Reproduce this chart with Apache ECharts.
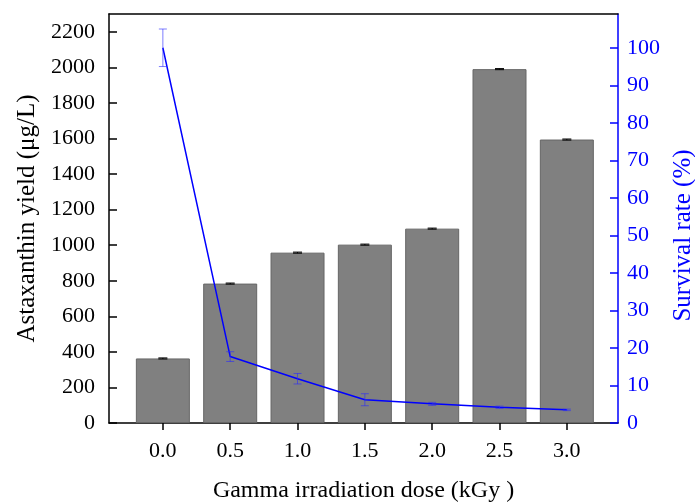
<!DOCTYPE html>
<html>
<head>
<meta charset="utf-8">
<script src="https://cdn.jsdelivr.net/npm/echarts@6/dist/echarts.min.js"></script>
<style>
  html, body { margin: 0; padding: 0; background: #fff; }
  #chart { width: 695px; height: 502px; }
</style>
</head>
<body>
<div id="chart"></div>
<script>
// dose (kGy)
const doses = [0.0, 0.5, 1.0, 1.5, 2.0, 2.5, 3.0];
// astaxanthin yield (ug/L) and its error
const yieldVals = [363, 784, 958, 1003, 1093, 1990, 1594];
const yieldErr = [3, 3, 3, 3, 3, 3, 3];
// survival rate (%) and its error
const survival = [100, 17.7, 11.8, 6.2, 5.1, 4.2, 3.5];
const survivalErr = [5, 1.3, 1.4, 1.6, 0.4, 0.3, 0.2];

const font = 'Liberation Serif';

const chart = echarts.init(document.getElementById('chart'));

function errorBars(color, capW, lineW) {
  return function (params, api) {
    const x = api.value(0);
    const lo = api.coord([x, api.value(1)]);
    const hi = api.coord([x, api.value(2)]);
    const half = capW / 2;
    const style = { stroke: color, lineWidth: lineW };
    return {
      type: 'group',
      children: [
        { type: 'line', shape: { x1: lo[0], y1: lo[1], x2: hi[0], y2: hi[1] }, style: style },
        { type: 'line', shape: { x1: lo[0] - half, y1: lo[1], x2: lo[0] + half, y2: lo[1] }, style: style },
        { type: 'line', shape: { x1: hi[0] - half, y1: hi[1], x2: hi[0] + half, y2: hi[1] }, style: style }
      ]
    };
  };
}

const option = {
  animation: false,
  textStyle: { fontFamily: font },
  grid: {
    left: 109, right: 77, top: 14, bottom: 79,
    containLabel: false,
    outerBoundsMode: 'none'
  },
  xAxis: [
    {
      type: 'value',
      min: -0.4,
      max: 3.38,
      name: 'Gamma irradiation dose (kGy )',
      nameLocation: 'middle',
      nameGap: 56,
      nameTextStyle: { fontFamily: font, fontSize: 24, color: '#000' },
      axisLine: { onZero: false, lineStyle: { color: '#000', width: 1.5 } },
      axisTick: { customValues: doses, length: 7, lineStyle: { color: '#000', width: 1.5 } },
      axisLabel: {
        customValues: doses,
        formatter: v => v.toFixed(1),
        fontFamily: font, fontSize: 22, color: '#000', margin: 17
      },
      splitLine: { show: false }
    },
    {
      type: 'value',
      position: 'top',
      min: -0.4,
      max: 3.38,
      axisLine: { show: true, onZero: false, lineStyle: { color: '#000', width: 1.5 } },
      axisTick: { show: false },
      axisLabel: { show: false },
      splitLine: { show: false }
    }
  ],
  yAxis: [
    {
      type: 'value',
      min: 0,
      max: 2300,
      interval: 200,
      name: 'Astaxanthin yield (μg/L)',
      nameLocation: 'middle',
      nameGap: 68,
      nameTextStyle: { fontFamily: font, fontSize: 25, color: '#000' },
      axisLine: { show: true, onZero: false, lineStyle: { color: '#000', width: 1.5 } },
      axisTick: { show: true, inside: true, length: 8, lineStyle: { color: '#000', width: 1.5 } },
      axisLabel: {
        showMaxLabel: false, formatter: v => String(v),
        fontFamily: font, fontSize: 22, color: '#000', margin: 14
      },
      splitLine: { show: false }
    },
    {
      type: 'value',
      position: 'right',
      min: 0,
      max: 109,
      interval: 10,
      name: 'Survival rate (%)',
      nameLocation: 'middle',
      nameGap: 52,
      nameRotate: 90,
      nameTextStyle: { fontFamily: font, fontSize: 25, color: '#0000ff', padding: [0, 34, 0, 0] },
      axisLine: { show: true, onZero: false, lineStyle: { color: '#0000ff', width: 1.5 } },
      axisTick: { show: true, inside: true, length: 8, lineStyle: { color: '#0000ff', width: 1.5 } },
      axisLabel: {
        showMaxLabel: false, formatter: v => String(v),
        fontFamily: font, fontSize: 22, color: '#0000ff', margin: 9
      },
      splitLine: { show: false }
    }
  ],
  series: [
    {
      type: 'bar',
      xAxisIndex: 0,
      yAxisIndex: 0,
      barWidth: 54,
      data: doses.map((d, i) => [d, yieldVals[i]]),
      itemStyle: { color: '#808080', borderColor: '#666666', borderWidth: 1 }
    },
    {
      type: 'custom',
      xAxisIndex: 0,
      yAxisIndex: 0,
      renderItem: errorBars('#000', 9, 1),
      data: doses.map((d, i) => [d, yieldVals[i] - yieldErr[i], yieldVals[i] + yieldErr[i]]),
      z: 3
    },
    {
      type: 'line',
      xAxisIndex: 0,
      yAxisIndex: 1,
      data: doses.map((d, i) => [d, survival[i]]),
      showSymbol: false,
      symbol: 'none',
      lineStyle: { color: '#0000ff', width: 1.5 },
      z: 4
    },
    {
      type: 'custom',
      xAxisIndex: 0,
      yAxisIndex: 1,
      renderItem: errorBars('rgba(40,40,255,0.6)', 8, 1),
      data: doses.map((d, i) => [d, survival[i] - survivalErr[i], survival[i] + survivalErr[i]]),
      z: 5
    }
  ]
};

chart.setOption(option);
</script>
</body>
</html>
